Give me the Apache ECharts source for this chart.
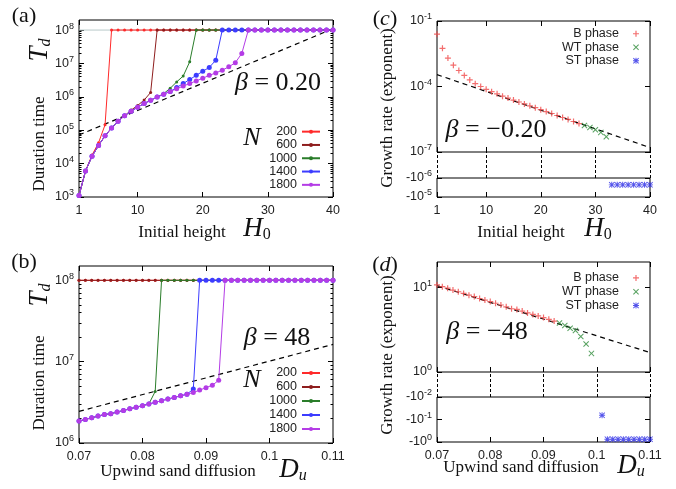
<!DOCTYPE html>
<html><head><meta charset="utf-8">
<script src="https://cdn.jsdelivr.net/npm/echarts@6/dist/echarts.min.js"></script>
<style>html,body{margin:0;padding:0;background:#fff}#c{width:676px;height:489px}</style>
</head><body><div id="c"></div>
<script>
// ================= DATA =================
const H0 = [1,2,3,4,5,6,7,8,9,10,11,12,13,14,15,16,17,18,19,20,21,22,23,24,25,26,27,28,29,30,31,32,33,34,35,36,37,38,39,40];
const Du = [0.070,0.071,0.072,0.073,0.074,0.075,0.076,0.077,0.078,0.079,0.080,0.081,0.082,0.083,0.084,0.085,0.086,0.087,0.088,0.089,0.090,0.091,0.092,0.093,0.094,0.095,0.096,0.097,0.098,0.099,0.100,0.101,0.102,0.103,0.104,0.105,0.106,0.107,0.108,0.109,0.110];
const N_NAMES = ['200','600','1000','1400','1800'];

// (a) duration time vs initial height, beta = 0.20
const tdA_200 = [1.1e3,6.0e3,1.8e4,4.2e4,1.45e5,
  1e8,1e8,1e8,1e8,1e8,1e8,1e8,1e8,1e8,1e8,
  1e8,1e8,1e8,1e8,1e8,1e8,1e8,1e8,1e8,1e8,
  1e8,1e8,1e8,1e8,1e8,1e8,1e8,1e8,1e8,1e8,
  1e8,1e8,1e8,1e8,1e8];
const tdA_600 = [1.1e3,6.0e3,1.66e4,3.5e4,6.8e4,1.17e5,1.86e5,2.7e5,4.0e5,5.5e5,8.0e5,1.35e6,
  1e8,1e8,1e8,1e8,1e8,1e8,1e8,1e8,1e8,1e8,
  1e8,1e8,1e8,1e8,1e8,1e8,1e8,1e8,1e8,1e8,
  1e8,1e8,1e8,1e8,1e8,1e8,1e8,1e8];
const tdA_1000 = [1.1e3,6.0e3,1.66e4,3.5e4,6.8e4,1.17e5,1.86e5,2.7e5,3.7e5,4.9e5,6.3e5,7.9e5,9.8e5,1.25e6,1.8e6,2.8e6,4.2e6,1.12e7,
  1e8,1e8,1e8,1e8,1e8,1e8,1e8,1e8,1e8,1e8,
  1e8,1e8,1e8,1e8,1e8,1e8,1e8,1e8,1e8,1e8,
  1e8,1e8];
const tdA_1400 = [1.1e3,6.0e3,1.66e4,3.5e4,6.8e4,1.17e5,1.86e5,2.7e5,3.7e5,4.9e5,6.3e5,7.9e5,9.8e5,1.2e6,1.45e6,1.9e6,2.5e6,3.3e6,4.4e6,5.8e6,7.6e6,1.25e7,
  1e8,1e8,1e8,1e8,1e8,1e8,1e8,1e8,1e8,1e8,
  1e8,1e8,1e8,1e8,1e8,1e8,1e8,1e8];
const tdA_1800 = [1.1e3,6.0e3,1.66e4,3.5e4,6.8e4,1.17e5,1.86e5,2.7e5,3.7e5,4.9e5,6.3e5,7.9e5,9.8e5,1.2e6,1.45e6,1.74e6,2.1e6,2.5e6,3.0e6,3.6e6,4.4e6,5.2e6,6.3e6,7.9e6,1.05e7,2.0e7,
  1e8,1e8,1e8,1e8,1e8,1e8,1e8,1e8,1e8,1e8,
  1e8,1e8,1e8,1e8];
const fitA_x = [1, 40];
const fitA_y = [7.2e4, 1.1e8];
const tmaxA_x = [1, 40];          // simulation time limit (faint guide)
const tmaxA_y = [1e8, 1e8];

// (b) duration time vs upwind sand diffusion, beta = 48
const tdB_200 = [1e8,1e8,1e8,1e8,1e8,1e8,1e8,1e8,1e8,1e8,
  1e8,1e8,1e8,1e8,1e8,1e8,1e8,1e8,1e8,1e8,
  1e8,1e8,1e8,1e8,1e8,1e8,1e8,1e8,1e8,1e8,
  1e8,1e8,1e8,1e8,1e8,1e8,1e8,1e8,1e8,1e8,
  1e8];
const tdB_600 = [1e8,1e8,1e8,1e8,1e8,1e8,1e8,1e8,1e8,1e8,
  1e8,1e8,1e8,1e8,1e8,1e8,1e8,1e8,1e8,1e8,
  1e8,1e8,1e8,1e8,1e8,1e8,1e8,1e8,1e8,1e8,
  1e8,1e8,1e8,1e8,1e8,1e8,1e8,1e8,1e8,1e8,
  1e8];
const tdB_1000 = [1.86e6,1.95e6,2.04e6,2.14e6,2.24e6,2.29e6,2.4e6,2.51e6,2.63e6,2.75e6,2.88e6,3.02e6,4.3e6,
  1e8,1e8,1e8,1e8,1e8,1e8,1e8,1e8,1e8,1e8,
  1e8,1e8,1e8,1e8,1e8,1e8,1e8,1e8,1e8,1e8,
  1e8,1e8,1e8,1e8,1e8,1e8,1e8,1e8];
const tdB_1400 = [1.86e6,1.95e6,2.04e6,2.14e6,2.24e6,2.29e6,2.4e6,2.51e6,2.63e6,2.75e6,2.88e6,3.02e6,3.16e6,3.31e6,3.47e6,3.63e6,3.8e6,3.98e6,4.6e6,
  1e8,1e8,1e8,1e8,1e8,1e8,1e8,1e8,1e8,1e8,
  1e8,1e8,1e8,1e8,1e8,1e8,1e8,1e8,1e8,1e8,
  1e8,1e8];
const tdB_1800 = [1.86e6,1.95e6,2.04e6,2.14e6,2.24e6,2.29e6,2.4e6,2.51e6,2.63e6,2.75e6,2.88e6,3.02e6,3.16e6,3.31e6,3.47e6,3.63e6,3.8e6,3.98e6,4.17e6,4.47e6,4.79e6,5.13e6,5.9e6,
  1e8,1e8,1e8,1e8,1e8,1e8,1e8,1e8,1e8,1e8,
  1e8,1e8,1e8,1e8,1e8,1e8,1e8,1e8];
const fitB_x = [0.07, 0.11];
const fitB_y = [2.45e6, 1.63e7];

// (c) growth rate vs initial height, beta = -0.20
const grC_H_B = [1,2,3,4,5,6,7,8,9,10,11,12,13,14,15,16,17,18,19,20,21,22,23,24,25,26,27];
const grC_B = [2.5e-2,5.6e-3,2.0e-3,9.5e-4,5.4e-4,3.2e-4,2.0e-4,1.35e-4,1.0e-4,7.4e-5,5.8e-5,4.6e-5,3.6e-5,2.95e-5,2.4e-5,1.95e-5,1.6e-5,1.3e-5,1.07e-5,8.7e-6,7.1e-6,5.8e-6,4.7e-6,3.8e-6,3.1e-6,2.5e-6,2.0e-6];
const grC_H_WT = [28,29,30,31,32];
const grC_WT = [1.62e-6,1.32e-6,1.05e-6,7.9e-7,5.0e-7];
const grC_H_ST = [33,34,35,36,37,38,39,40];
const grC_ST = [-2.3e-6,-2.3e-6,-2.3e-6,-2.3e-6,-2.3e-6,-2.3e-6,-2.3e-6,-2.3e-6];
const fitC_x = [1, 40];
const fitC_y = [3.5e-4, 1.6e-7];

// (d) growth rate vs upwind sand diffusion, beta = -48
const grD_x_B = [0.070,0.071,0.072,0.073,0.074,0.075,0.076,0.077,0.078,0.079,0.080,0.081,0.082,0.083,0.084,0.085,0.086,0.087,0.088,0.089,0.090,0.091,0.092];
const grD_B = [10.7,10.2,9.8,9.3,8.9,8.5,8.1,7.8,7.4,7.1,6.8,6.5,6.2,5.9,5.6,5.5,5.25,5.0,4.8,4.6,4.4,4.2,4.0];
const grD_x_WT = [0.093,0.094,0.095,0.096,0.097,0.098,0.099];
const grD_WT = [3.8,3.55,3.3,3.1,2.63,2.14,1.66];
const grD_x_ST = [0.101,0.102,0.103,0.104,0.105,0.106,0.107,0.108,0.109,0.110];
const grD_ST = [-0.065,-0.75,-0.75,-0.75,-0.75,-0.75,-0.75,-0.75,-0.75,-0.75];
const fitD_x = [0.07, 0.11];
const fitD_y = [10.5, 1.7];

// tick values
const H_TICKS = [1, 10, 20, 30, 40];
const DU_TICKS = [0.07, 0.08, 0.09, 0.1, 0.11];
const TA_TICKS = [1e3, 1e4, 1e5, 1e6, 1e7, 1e8];
const TB_TICKS = [1e6, 1e7, 1e8];
const GCU_TICKS = [1e-7, 1e-4, 1e-1];
const GCL_TICKS = [1e-6, 1e-5];   // magnitudes of negative rates
const GDU_TICKS = [1, 10];
const GDL_TICKS = [1e-2, 1e-1, 1]; // magnitudes of negative rates

// ================= STYLE =================
const SANS = '"Liberation Sans", Arial, Helvetica, sans-serif';
const SERIF = '"Liberation Serif", "Times New Roman", serif';
const N_COLORS = ['#ff2a2a', '#8e1d1d', '#2a7d2a', '#3c3cff', '#b43ce6'];
const N_SIZES = [3, 3, 3, 5, 5];
const C_B = '#f04a4a', C_WT = '#2e8b3a', C_ST = '#2a2ae6';
const PLUS = 'path://M4,0L6,0L6,4L10,4L10,6L6,6L6,10L4,10L4,6L0,6L0,4L4,4Z';
const CROSS = 'path://M1.2,0L5,3.8L8.8,0L10,1.2L6.2,5L10,8.8L8.8,10L5,6.2L1.2,10L0,8.8L3.8,5L0,1.2Z';
const STAR = 'path://M4.2,0L5.8,0L5.8,4.2L10,4.2L10,5.8L5.8,5.8L5.8,10L4.2,10L4.2,5.8L0,5.8L0,4.2L4.2,4.2Z M1.1,0L5,3.9L8.9,0L10,1.1L6.1,5L10,8.9L8.9,10L5,6.1L1.1,10L0,8.9L3.9,5L0,1.1Z';

const zip = (xs, ys) => xs.map((x, i) => [x, ys[i]]);
const negToMag = ys => ys.map(v => -v);

const LBL = {fontSize: 12.5, fontFamily: SANS, color: '#222'};
const SUP_RICH = {e: {fontSize: 9, fontFamily: SANS, color: '#222', verticalAlign: 'top', lineHeight: 9}};
const expFmt = neg => v => (neg ? '-' : '') + '10{e|' + Math.round(Math.log10(v)) + '}';
const numFmt = v => String(parseFloat(Number(v).toFixed(4)));

function xAxis(gi, min, max, ticks, labels, top) {
  return {
    type: 'value', gridIndex: gi, min, max, position: top ? 'top' : 'bottom',
    axisLine: {show: false},
    axisTick: {show: true, inside: true, length: 5, customValues: ticks, lineStyle: {color: '#000', width: 1}},
    axisLabel: Object.assign({show: !!labels, customValues: ticks, margin: 7, formatter: numFmt}, LBL),
    splitLine: {show: false}
  };
}
function yLog(gi, min, max, ticks, o) {
  o = o || {};
  return {
    type: 'log', logBase: 10, gridIndex: gi, min, max, inverse: !!o.inverse,
    position: o.right ? 'right' : 'left',
    axisLine: {show: false},
    axisTick: {show: true, inside: true, length: 5, customValues: ticks, lineStyle: {color: '#000', width: 1}},
    minorTick: {show: !!o.minor, splitNumber: 9, length: 2.5, lineStyle: {color: '#000', width: 1}},
    axisLabel: Object.assign({show: !!o.labels, customValues: ticks, margin: 5, lineHeight: 17,
      formatter: expFmt(o.neg), rich: SUP_RICH}, LBL),
    splitLine: {show: false}, minorSplitLine: {show: false}
  };
}
function yHidden(gi) {
  return {type: 'value', gridIndex: gi, min: 0, max: 1, show: false};
}

// ================= LAYOUT =================
const grids = [
  {left: 79, top: 20, width: 254, height: 177},   // 0 (a)
  {left: 79, top: 266, width: 254, height: 177},  // 1 (b)
  {left: 437, top: 21, width: 213, height: 131},  // 2 (c) upper
  {left: 437, top: 152, width: 213, height: 26},  // 3 (c) break
  {left: 437, top: 178, width: 213, height: 19},  // 4 (c) lower
  {left: 437, top: 262, width: 213, height: 110}, // 5 (d) upper
  {left: 437, top: 372, width: 213, height: 25},  // 6 (d) break
  {left: 437, top: 397, width: 213, height: 45}   // 7 (d) lower
].map((g, i) => Object.assign({show: i !== 3 && i !== 6, borderColor: '#000', borderWidth: 1, containLabel: false}, g));

const xAxes = [
  xAxis(0, 1, 40, H_TICKS, true), xAxis(0, 1, 40, H_TICKS, false, true),
  xAxis(1, 0.07, 0.11, DU_TICKS, true), xAxis(1, 0.07, 0.11, DU_TICKS, false, true),
  xAxis(2, 1, 40, H_TICKS, false), xAxis(2, 1, 40, H_TICKS, false, true),
  Object.assign(xAxis(3, 1, 40, H_TICKS, false), {show: false}),
  xAxis(4, 1, 40, H_TICKS, true),
  xAxis(5, 0.07, 0.11, DU_TICKS, false), xAxis(5, 0.07, 0.11, DU_TICKS, false, true),
  Object.assign(xAxis(6, 0.07, 0.11, DU_TICKS, false), {show: false}),
  xAxis(7, 0.07, 0.11, DU_TICKS, true)
];
const yAxes = [
  yLog(0, 1e3, 2e8, TA_TICKS, {labels: true, minor: true}), yLog(0, 1e3, 2e8, TA_TICKS, {right: true, minor: true}),
  yLog(1, 1e6, 1.5e8, TB_TICKS, {labels: true, minor: true}), yLog(1, 1e6, 1.5e8, TB_TICKS, {right: true, minor: true}),
  yLog(2, 1e-7, 1e-1, GCU_TICKS, {labels: true}), yLog(2, 1e-7, 1e-1, GCU_TICKS, {right: true}),
  yHidden(3),
  yLog(4, 1e-6, 1e-5, GCL_TICKS, {labels: true, neg: true, inverse: true}), yLog(4, 1e-6, 1e-5, GCL_TICKS, {right: true, inverse: true}),
  yLog(5, 1, 20, GDU_TICKS, {labels: true}), yLog(5, 1, 20, GDU_TICKS, {right: true}),
  yHidden(6),
  yLog(7, 1e-2, 1, GDL_TICKS, {labels: true, neg: true, inverse: true}), yLog(7, 1e-2, 1, GDL_TICKS, {right: true, inverse: true})
];

// ================= SERIES =================
const series = [];
function fitLine(xi, yi, xs, ys) {
  series.push({type: 'line', name: 'fit', xAxisIndex: xi, yAxisIndex: yi, data: zip(xs, ys), symbol: 'none',
    lineStyle: {color: '#000', width: 1.2, type: [5, 4]}, z: 3, silent: true});
}
series.push({type: 'line', name: 'tmax', xAxisIndex: 0, yAxisIndex: 0, data: zip(tmaxA_x, tmaxA_y), symbol: 'none',
  lineStyle: {color: '#b9c9c9', width: 1}, z: 2, silent: true});
fitLine(0, 0, fitA_x, fitA_y);
fitLine(2, 2, fitB_x, fitB_y);
const A_SETS = [tdA_200, tdA_600, tdA_1000, tdA_1400, tdA_1800];
const B_SETS = [tdB_200, tdB_600, tdB_1000, tdB_1400, tdB_1800];
N_NAMES.forEach((nm, k) => {
  [[0, A_SETS[k], H0], [2, B_SETS[k], Du]].forEach(([ax, ys, xs]) => {
    series.push({type: 'line', name: nm, xAxisIndex: ax, yAxisIndex: ax, data: zip(xs, ys),
      symbol: 'circle', symbolSize: N_SIZES[k], showSymbol: true,
      lineStyle: {color: N_COLORS[k], width: 1}, itemStyle: {color: N_COLORS[k]}, z: 4 + k});
  });
});
function scat(name, xi, yi, data, sym, color) {
  series.push({type: 'scatter', name, xAxisIndex: xi, yAxisIndex: yi, data, symbol: sym, symbolSize: 6,
    itemStyle: {color}, z: 5});
}
fitLine(4, 4, fitC_x, fitC_y);
scat('B phase', 4, 4, zip(grC_H_B, grC_B), PLUS, C_B);
scat('WT phase', 4, 4, zip(grC_H_WT, grC_WT), CROSS, C_WT);
scat('ST phase', 7, 7, zip(grC_H_ST, negToMag(grC_ST)), STAR, C_ST);
fitLine(8, 9, fitD_x, fitD_y);
scat('B phase', 8, 9, zip(grD_x_B, grD_B), PLUS, C_B);
scat('WT phase', 8, 9, zip(grD_x_WT, grD_WT), CROSS, C_WT);
scat('ST phase', 11, 12, zip(grD_x_ST, negToMag(grD_ST)), STAR, C_ST);
// dashed guides in the axis-break bands
[[6, 6, H_TICKS], [10, 11, DU_TICKS]].forEach(([xi, yi, ticks]) => {
  series.push({type: 'line', name: 'break', xAxisIndex: xi, yAxisIndex: yi, data: [], silent: true,
    markLine: {symbol: 'none', silent: true, label: {show: false},
      lineStyle: {color: '#000', width: 1, type: [3, 2]}, data: ticks.map(v => ({xAxis: v}))}});
});

// ================= LEGENDS =================
function legend(names, right, top, lh, iw, ih) {
  return {data: names, orient: 'vertical', align: 'right', right, top, padding: 0, itemGap: 0,
    itemWidth: iw, itemHeight: ih, selectedMode: false,
    textStyle: {fontSize: 12.5, fontFamily: SANS, color: '#222', lineHeight: lh, padding: [0, 0, 0, 0]}};
}
const legends = [
  legend(N_NAMES, 355, 125, 13.3, 18, 5),
  legend(N_NAMES, 355, 366, 14, 18, 5),
  legend(['B phase', 'WT phase', 'ST phase'], 37, 27, 13.5, 24, 6),
  legend(['B phase', 'WT phase', 'ST phase'], 37, 271, 13.8, 24, 6)
];

// ================= TEXT =================
const IT = {fontFamily: SERIF, fontStyle: 'italic'};
function T(x, y, text, size, rich, rot) {
  return {type: 'text', x, y, rotation: rot ? Math.PI / 2 : 0, silent: true,
    style: {text, fontSize: size, fontFamily: SERIF, fill: '#111', align: 'center', verticalAlign: 'middle', rich: rich || {}}};
}
const MATH_RICH = {
  m: Object.assign({fontSize: 27, fill: '#111'}, IT),
  s: {fontSize: 16, fontFamily: SERIF, fontStyle: 'italic', fill: '#111', verticalAlign: 'bottom', lineHeight: 24}
};
const MATH_RICH_UP = {
  m: Object.assign({fontSize: 27, fill: '#111'}, IT),
  s: {fontSize: 16, fontFamily: SERIF, fill: '#111', verticalAlign: 'bottom', lineHeight: 24}
};
const BETA_RICH = {b: Object.assign({fontSize: 26, fill: '#111'}, IT), t: {fontSize: 26, fontFamily: SERIF, fill: '#111'}};
const LAB_RICH = {i: Object.assign({fontSize: 22, fill: '#111'}, IT), t: {fontSize: 22, fontFamily: SERIF, fill: '#111'}};
const graphic = [
  T(24, 16, '{t|(a)}', 22, LAB_RICH),
  T(24, 262, '{t|(b)}', 22, LAB_RICH),
  T(385, 19, '{t|(}{i|c}{t|)}', 22, LAB_RICH),
  T(385, 265, '{t|(}{i|d}{t|)}', 22, LAB_RICH),
  T(40, 144, 'Duration time', 17, null, true),
  T(40, 50, '{m|T}{s|d}', 27, MATH_RICH, true),
  T(40, 383, 'Duration time', 17, null, true),
  T(40, 295, '{m|T}{s|d}', 27, MATH_RICH, true),
  T(388, 108, 'Growth rate (exponent)', 17, null, true),
  T(388, 355, 'Growth rate (exponent)', 17, null, true),
  T(182, 233, 'Initial height', 17),
  T(257, 229, '{m|H}{s|0}', 27, MATH_RICH_UP),
  T(521, 233, 'Initial height', 17),
  T(598, 229, '{m|H}{s|0}', 27, MATH_RICH_UP),
  T(178, 472, 'Upwind sand diffusion', 17),
  T(293, 470, '{m|D}{s|u}', 27, MATH_RICH),
  T(521, 468, 'Upwind sand diffusion', 17),
  T(631, 466, '{m|D}{s|u}', 27, MATH_RICH),
  T(278, 83, '{b|β}{t| = 0.20}', 26, BETA_RICH),
  T(277, 338, '{b|β}{t| = 48}', 26, BETA_RICH),
  T(496, 130, '{b|β}{t| = −0.20}', 26, BETA_RICH),
  T(487, 332, '{b|β}{t| = −48}', 26, BETA_RICH),
  T(252, 138, '{b|N}', 26, BETA_RICH),
  T(252, 380, '{b|N}', 26, BETA_RICH)
];

const chart = echarts.init(document.getElementById('c'), null, {renderer: 'canvas', width: 676, height: 489});
chart.setOption({
  animation: false,
  backgroundColor: '#fff',
  grid: grids, xAxis: xAxes, yAxis: yAxes, series, legend: legends, graphic
});
</script></body></html>
